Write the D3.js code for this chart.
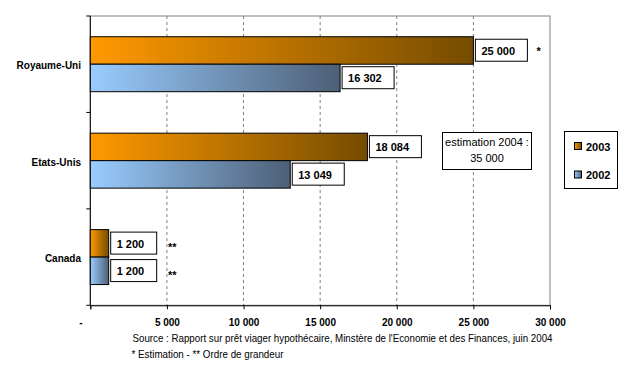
<!DOCTYPE html>
<html><head><meta charset="utf-8">
<script src="https://cdn.jsdelivr.net/npm/d3@7/dist/d3.min.js"></script>
<style>body{margin:0;background:#fff}svg{display:block;font-family:"Liberation Sans",Arial,sans-serif}</style>
</head><body><svg id="c" width="638" height="382"></svg>
<script>
const categories = ["Royaume-Uni", "Etats-Unis", "Canada"];
const series = ["2003", "2002"];
const values2003 = [25000, 18084, 1200];
const values2002 = [16302, 13049, 1200];
const valueLabels2003 = ["25 000", "18 084", "1 200"];
const valueLabels2002 = ["16 302", "13 049", "1 200"];
const marks2003 = ["*", "", "**"];
const marks2002 = ["", "", "**"];
const tickValues = [0, 5000, 10000, 15000, 20000, 25000, 30000];
const tickLabels = ["-", "5 000", "10 000", "15 000", "20 000", "25 000", "30 000"];
const noteLines = ["estimation 2004 :", "35 000"];
const sourceLines = ["Source : Rapport sur prêt viager hypothécaire, Minstère de l'Economie et des Finances, juin 2004", "* Estimation - ** Ordre de grandeur"];

const svg = d3.select("#c");
const L = 90.3, R = 550, T = 16, B = 305.3;
const x = d3.scaleLinear().domain([0, 30000]).range([L, R]);
const y = d3.scaleBand().domain(categories).range([T, B]).paddingInner(0.43).paddingOuter(0.215);
const ys = d3.scaleBand().domain(series).range([0, y.bandwidth()]);

const defs = svg.append("defs");
const grads = {"2003": ["#FF9900", "#754C00"], "2002": ["#99CCFF", "#4D5F76"]};
for (const s of series) {
  const g = defs.append("linearGradient").attr("id", "g" + s).attr("x1", 0).attr("x2", 1).attr("y1", 0).attr("y2", 0);
  g.append("stop").attr("offset", 0).attr("stop-color", grads[s][0]);
  g.append("stop").attr("offset", 1).attr("stop-color", grads[s][1]);
}

// plot frame
svg.append("rect").attr("x", L).attr("y", T).attr("width", R - L).attr("height", B - T)
  .attr("fill", "none").attr("stroke", "#808080").attr("stroke-width", 1);

// gridlines
svg.append("g").selectAll("line").data(tickValues.filter(v => v > 0 && v < 30000)).join("line")
  .attr("x1", d => x(d)).attr("x2", d => x(d)).attr("y1", T).attr("y2", B)
  .attr("stroke", "#808080").attr("stroke-dasharray", "3,3");

// bottom axis
const xAxis = d3.axisBottom(x).tickValues(tickValues).tickSize(4).tickFormat((d, i) => tickLabels[i]);
const gx = svg.append("g").attr("transform", `translate(0,${B})`).call(xAxis);
gx.select(".domain").attr("stroke", "#000");
gx.selectAll(".tick line").attr("stroke", "#000");
gx.selectAll(".tick text").attr("font-size", 10).attr("font-weight", "bold").attr("fill", "#000")
  .attr("font-family", "Liberation Sans, Arial, sans-serif").attr("dy", "1.35em");
gx.selectAll(".tick text").filter((d, i) => i === 0).attr("dx", -10);

// left axis with ticks at band boundaries
svg.append("line").attr("x1", L).attr("x2", L).attr("y1", T).attr("y2", B).attr("stroke", "#000");
const bounds = d3.range(categories.length + 1).map(i => T + i * (B - T) / categories.length);
svg.append("g").selectAll("line").data(bounds).join("line")
  .attr("x1", L - 4).attr("x2", L).attr("y1", d => d).attr("y2", d => d).attr("stroke", "#000");

// category labels
svg.append("g").selectAll("text").data(categories).join("text")
  .attr("x", 81).attr("y", d => y(d) + y.bandwidth() / 2 + 5)
  .attr("text-anchor", "end").attr("font-size", 10).attr("font-weight", "bold").text(d => d);

const rows = [];
categories.forEach((c, i) => {
  rows.push({c, s: "2003", v: values2003[i], lab: valueLabels2003[i], mark: marks2003[i]});
  rows.push({c, s: "2002", v: values2002[i], lab: valueLabels2002[i], mark: marks2002[i]});
});

const bars = svg.append("g");
bars.selectAll("rect").data(rows).join("rect")
  .attr("x", x(0)).attr("y", d => y(d.c) + ys(d.s))
  .attr("width", d => x(d.v) - x(0)).attr("height", ys.bandwidth())
  .attr("fill", d => `url(#g${d.s})`).attr("stroke", "#000").attr("stroke-width", 1);

// value labels
const lg = svg.append("g");
rows.forEach(d => {
  const bx = x(d.v) + 2, by = y(d.c) + ys(d.s) + 2.5;
  const w = d.lab.length > 5 ? 52 : 46;
  lg.append("rect").attr("x", bx).attr("y", by).attr("width", w).attr("height", 22)
    .attr("fill", "#fff").attr("stroke", "#000").attr("stroke-width", 1);
  lg.append("text").attr("x", bx + 6).attr("y", by + 15.5).attr("font-size", 11).attr("font-weight", "bold").text(d.lab);
  if (d.mark) {
    const mx = d.mark === "*" ? bx + w + 9 : x(5000) + 1;
    lg.append("text").attr("x", mx).attr("y", by + (d.mark === "*" ? 16 : 19)).attr("font-size", 11).attr("font-weight", "bold").text(d.mark);
  }
});

// estimation note
svg.append("rect").attr("x", 442.5).attr("y", 132.5).attr("width", 89).attr("height", 37)
  .attr("fill", "#fff").attr("stroke", "#000");
svg.append("g").selectAll("text").data(noteLines).join("text")
  .attr("x", 487).attr("y", (d, i) => 145.5 + i * 16.5).attr("text-anchor", "middle").attr("font-size", 11).text(d => d);

// legend
svg.append("rect").attr("x", 564.5).attr("y", 131.5).attr("width", 53).attr("height", 57)
  .attr("fill", "#fff").attr("stroke", "#000");
const leg = svg.append("g").selectAll("g").data(series).join("g")
  .attr("transform", (d, i) => `translate(574.5,${142.5 + i * 28.5})`);
leg.append("rect").attr("width", 7).attr("height", 7).attr("fill", d => `url(#g${d})`).attr("stroke", "#000");
leg.append("text").attr("x", 11.5).attr("y", 8).attr("font-size", 11).attr("font-weight", "bold").text(d => d);

// source
svg.append("text").attr("x", 132.5).attr("y", 341.5).attr("font-size", 11)
  .attr("textLength", 420).attr("lengthAdjust", "spacingAndGlyphs").text(sourceLines[0]);
svg.append("text").attr("x", 131.5).attr("y", 358).attr("font-size", 11)
  .attr("textLength", 152).attr("lengthAdjust", "spacingAndGlyphs").text(sourceLines[1]);
</script></body></html>
